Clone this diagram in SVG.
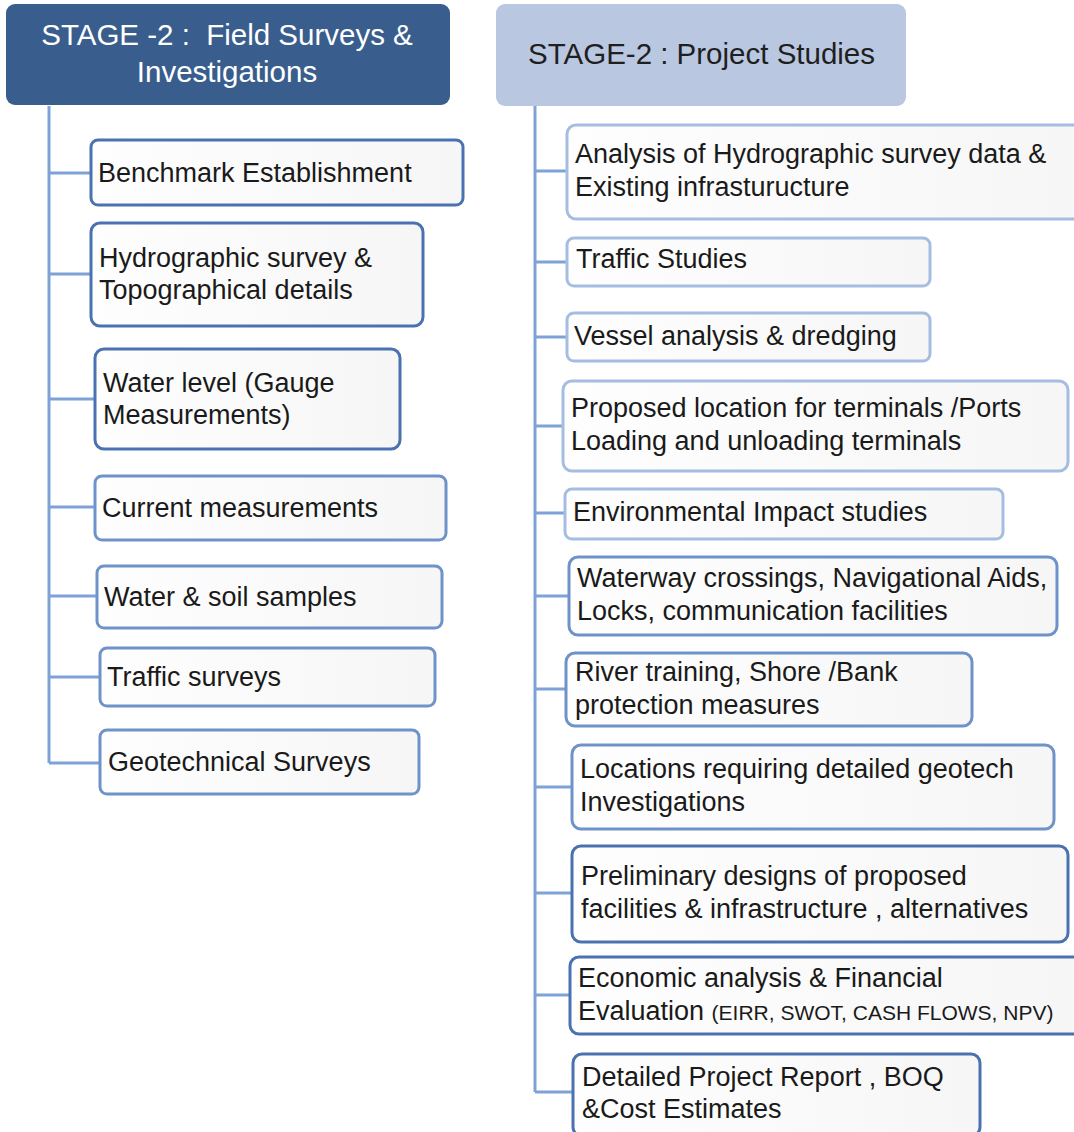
<svg xmlns="http://www.w3.org/2000/svg" width="1074" height="1132" viewBox="0 0 1074 1132">
<defs>
<linearGradient id="bf" x1="0" y1="0" x2="1" y2="0">
<stop offset="0" stop-color="#fefefe"/>
<stop offset="1" stop-color="#f6f6f6"/>
</linearGradient>
<style>
.t{font-family:"Liberation Sans",Arial,sans-serif;font-size:27px;fill:#1a1a1a}
.h{font-family:"Liberation Sans",Arial,sans-serif;font-size:29.5px}
.bx{fill:url(#bf);stroke-width:3}
.d{stroke:#4a72b0}
.m{stroke:#6f93c9}
.l{stroke:#a6bde2}
.c{stroke:#7fa2d6;stroke-width:3;fill:none}
</style>
</defs>
<rect width="1074" height="1132" fill="#ffffff"/>
<g id="head-left">
<rect x="6" y="4" width="444" height="101" rx="9" fill="#395e8d"/>
<text class="h" x="227" y="45" fill="#ffffff" text-anchor="middle" xml:space="preserve">STAGE -2 :  Field Surveys &amp;</text>
<text class="h" x="227" y="82" fill="#ffffff" text-anchor="middle">Investigations</text>
</g>
<g id="head-right">
<rect x="496" y="4" width="410" height="102" rx="9" fill="#b9c7e1"/>
<text class="h" x="528" y="64" fill="#1f1f1f">STAGE-2 : Project Studies</text>
</g>
<g id="connectors">
<path class="c" d="M49 106V763M49 173H91M49 274H91M49 399H95M49 507H95M49 596H97M49 677H100M49 763H100"/>
<path class="c" d="M535 106V1092M535 171H567M535 262H567M535 337H567M535 426H563M535 513H565M535 596H569M535 689H566M535 787H572M535 893H572M535 995H570M535 1092H573"/>
</g>
<g id="n-benchmark"><rect class="bx d" x="91" y="140" width="372" height="65" rx="7"/><text class="t" x="98" y="182">Benchmark Establishment</text></g>
<g id="n-hydro"><rect class="bx d" x="91" y="223" width="332" height="103" rx="9"/><text class="t" x="99" y="267">Hydrographic survey &amp;</text><text class="t" x="99" y="299">Topographical details</text></g>
<g id="n-water-level"><rect class="bx d" x="95" y="349" width="305" height="100" rx="9"/><text class="t" x="103" y="392">Water level (Gauge</text><text class="t" x="103" y="424">Measurements)</text></g>
<g id="n-current"><rect class="bx m" x="95" y="476" width="351" height="64" rx="7"/><text class="t" x="102" y="517">Current measurements</text></g>
<g id="n-samples"><rect class="bx m" x="97" y="566" width="345" height="62" rx="7"/><text class="t" x="104" y="606">Water &amp; soil samples</text></g>
<g id="n-traffic-surveys"><rect class="bx m" x="100" y="648" width="335" height="58" rx="7"/><text class="t" x="107" y="686">Traffic surveys</text></g>
<g id="n-geotech"><rect class="bx m" x="100" y="730" width="319" height="64" rx="7"/><text class="t" x="108" y="771">Geotechnical Surveys</text></g>
<g id="n-analysis"><rect class="bx l" x="567" y="125" width="520" height="94" rx="9"/><text class="t" x="575" y="163">Analysis of Hydrographic survey data &amp;</text><text class="t" x="575" y="196">Existing infrasturucture</text></g>
<g id="n-traffic-studies"><rect class="bx l" x="567" y="238" width="363" height="48" rx="7"/><text class="t" x="576" y="268">Traffic Studies</text></g>
<g id="n-vessel"><rect class="bx l" x="567" y="313" width="363" height="48" rx="7"/><text class="t" x="574" y="345">Vessel analysis &amp; dredging</text></g>
<g id="n-proposed"><rect class="bx l" x="563" y="381" width="505" height="90" rx="9"/><text class="t" x="571" y="417">Proposed location for terminals /Ports</text><text class="t" x="571" y="450">Loading and unloading terminals</text></g>
<g id="n-environment"><rect class="bx l" x="565" y="489" width="438" height="50" rx="7"/><text class="t" x="573" y="521">Environmental Impact studies</text></g>
<g id="n-waterway"><rect class="bx m" x="569" y="557" width="488" height="78" rx="9"/><text class="t" x="577" y="587">Waterway crossings, Navigational Aids,</text><text class="t" x="577" y="620">Locks, communication facilities</text></g>
<g id="n-river"><rect class="bx m" x="566" y="653" width="406" height="73" rx="9"/><text class="t" x="575" y="681">River training, Shore /Bank</text><text class="t" x="575" y="714">protection measures</text></g>
<g id="n-locations"><rect class="bx m" x="572" y="745" width="482" height="84" rx="9"/><text class="t" x="580" y="778">Locations requiring detailed geotech</text><text class="t" x="580" y="811">Investigations</text></g>
<g id="n-preliminary"><rect class="bx d" x="572" y="846" width="496" height="96" rx="9"/><text class="t" x="581" y="885">Preliminary designs of proposed</text><text class="t" x="581" y="918">facilities &amp; infrastructure , alternatives</text></g>
<g id="n-economic"><rect class="bx d" x="570" y="957" width="512" height="77" rx="9"/><text class="t" x="578" y="987">Economic analysis &amp; Financial</text><text class="t" x="578" y="1020">Evaluation <tspan font-size="21">(EIRR, SWOT, CASH FLOWS, NPV)</tspan></text></g>
<g id="n-dpr"><rect class="bx d" x="573" y="1054" width="407" height="82" rx="9"/><text class="t" x="582" y="1086">Detailed Project Report , BOQ</text><text class="t" x="582" y="1118">&amp;Cost Estimates</text></g>
</svg>
